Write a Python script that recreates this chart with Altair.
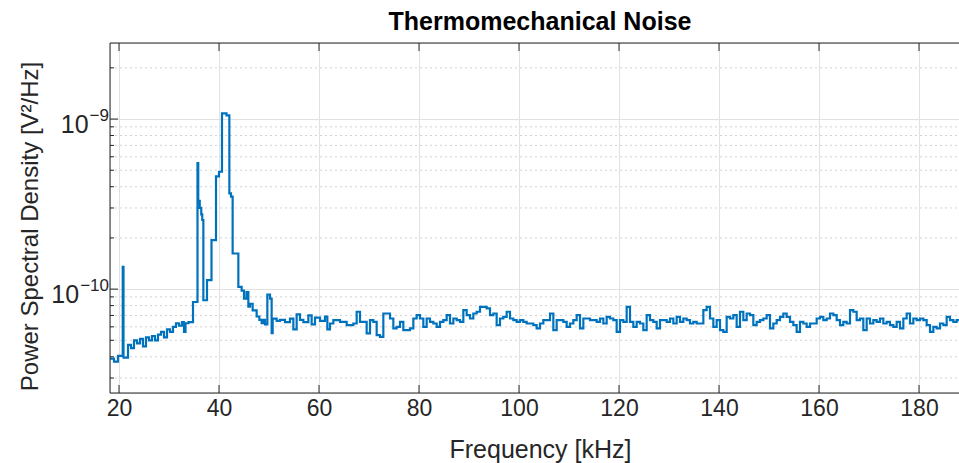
import altair as alt
import pandas as pd

title_text = "Thermomechanical Noise"
x_title = "Frequency [kHz]"
y_title = "Power Spectral Density [V²/Hz]"

# Low-frequency part: step start frequencies [kHz] and PSD values [1e-11 V^2/Hz]
low_f = [18.2, 19.0, 19.8, 20.75, 20.9, 21.8, 22.4, 23.0, 23.6, 24.2,
         24.8, 25.4, 26.0, 26.6, 27.2, 27.8, 28.4, 29.0, 29.6, 30.2,
         30.8, 31.4, 32.0, 32.6, 33.0, 33.3, 33.9, 34.8, 35.7, 35.85,
         36.15, 36.45, 36.65, 36.87, 37.6, 38.5, 39.4, 40.0, 40.6, 41.5,
         42.07, 42.4, 42.73, 43.87, 44.53, 45.0, 45.5, 45.87, 46.2, 46.73,
         47.53, 48.07, 48.53, 48.87, 49.2, 49.67, 50.2, 50.53, 50.73, 51.53,
         52.2, 53.2, 54.2, 54.87, 55.53, 56.2, 56.87, 57.87, 58.53, 59.2,
         60.2, 61.2, 61.67]
low_v = [3.9, 3.75, 4.05, 13.5, 3.95, 4.7, 4.5, 5.0, 4.8, 5.1,
         4.6, 5.2, 5.0, 5.3, 5.0, 5.4, 5.6, 5.2, 5.8, 5.6,
         6.0, 6.3, 6.1, 6.4, 5.6, 6.3, 6.4, 8.4, 55, 33,
         30, 27.5, 25.5, 8.6, 11.3, 19.4, 46, 49, 108, 105,
         36.6, 35, 16.2, 10.3, 9.8, 8.8, 9.6, 7.9, 8.2, 7.5,
         6.9, 6.6, 6.3, 6.6, 6.2, 9.3, 8.8, 5.5, 6.7, 6.5,
         6.6, 6.4, 6.7, 5.8, 7.1, 6.6, 6.4, 7.0, 6.2, 6.8,
         6.5, 6.9, 5.8]

# Noise floor: bins of 2/3 kHz starting at 62.2 kHz, PSD [1e-11 V^2/Hz]
noise_f0 = 62.2
noise_df = 2.0 / 3.0
noise_v = [6.28, 6.57, 6.57, 6.42, 6.42, 6.14, 6.14, 6.28, 7.36, 6.42,
           6.42, 5.49, 6.57, 6.42, 5.36, 5.24, 7.19, 7.19, 6.72, 5.87,
           6.00, 6.42, 5.74, 5.74, 5.87, 6.72, 7.03, 6.72, 6.00, 6.72,
           6.42, 6.28, 6.00, 6.42, 6.57, 7.03, 6.28, 6.72, 6.57, 6.42,
           7.52, 7.03, 6.72, 7.19, 7.36, 7.87, 7.87, 7.70, 7.03, 7.19,
           6.14, 6.72, 6.87, 7.36, 6.72, 6.57, 6.42, 6.57, 6.42, 6.28,
           6.28, 6.14, 5.87, 6.28, 6.57, 6.57, 7.19, 5.74, 6.57, 6.57,
           6.42, 6.00, 6.28, 6.57, 7.03, 5.87, 6.72, 6.72, 6.57, 6.57,
           6.42, 6.72, 6.28, 6.87, 6.72, 6.57, 5.61, 6.57, 6.42, 7.87,
           6.42, 6.00, 6.42, 6.28, 5.74, 7.03, 6.57, 6.42, 5.87, 6.57,
           6.57, 6.42, 6.72, 6.28, 6.87, 6.42, 6.72, 6.57, 6.28, 6.42,
           6.28, 6.28, 7.52, 7.87, 6.72, 6.00, 6.57, 5.74, 5.61, 6.87,
           6.72, 7.03, 6.00, 7.36, 6.57, 7.19, 7.03, 6.14, 6.42, 6.57,
           6.72, 7.03, 5.87, 6.28, 6.57, 6.87, 7.19, 6.87, 6.42, 6.14,
           5.61, 6.42, 6.28, 6.00, 6.28, 6.28, 6.72, 6.87, 6.57, 6.72,
           7.19, 7.03, 6.57, 6.14, 6.42, 6.28, 7.52, 7.36, 6.57, 6.72,
           5.74, 6.72, 6.28, 6.57, 6.42, 6.72, 6.28, 6.42, 6.14, 6.00,
           6.42, 5.87, 6.72, 7.19, 6.28, 6.72, 6.57, 6.72, 6.57, 6.14,
           5.61, 6.00, 5.87, 6.28, 6.14, 6.87, 6.57, 6.42, 6.57, 6.57]

x_ticks = [20, 40, 60, 80, 100, 120, 140, 160, 180]
y_major = [1e-10, 1e-9]
y_major_exp = ["\u221210", "\u22129"]
y_minor = [3e-11, 4e-11, 5e-11, 6e-11, 7e-11, 8e-11, 9e-11,
           2e-10, 3e-10, 4e-10, 5e-10, 6e-10, 7e-10, 8e-10, 9e-10, 2e-9]

W, H = 849, 350
XDOM = [18.2, 188.0]
YDOM = [2.45e-11, 2.8e-9]
FONT = "Liberation Sans"
TXT = "#262626"
GRID = "#e1e1e1"
LINE = "#0072BD"
TICK_FS = 23
BASE_FS = 25
EXP_FS = 17
CENTER_X = 430   # visual centre of the (cropped) axes box

freqs = list(low_f) + [noise_f0 + k * noise_df for k in range(len(noise_v))]
vals = [v * 1e-11 for v in (low_v + noise_v)]
df = pd.DataFrame({"f": freqs, "psd": vals})

xs = alt.Scale(domain=XDOM, nice=False, zero=False)
ys = alt.Scale(type="log", domain=YDOM, nice=False)

x_axis = alt.Axis(values=x_ticks, title=x_title, grid=True, gridColor=GRID,
                  ticks=False, tickSize=0, domain=False,
                  labelFontSize=TICK_FS, labelColor=TXT, labelFont=FONT, labelPadding=4,
                  titleFontSize=25, titleFont=FONT, titleColor=TXT,
                  titleFontWeight="normal", titleX=CENTER_X, titleAlign="center",
                  titleY=56, titleBaseline="middle")
y_axis = alt.Axis(values=y_major, grid=True, gridColor=GRID, labels=False,
                  ticks=False, tickSize=0, domain=False, title=y_title,
                  titleFontSize=24, titleFont=FONT, titleColor=TXT,
                  titleFontWeight="normal", titleX=-80, titleY=H / 2 + 8, titleAngle=270,
                  titleAlign="center", titleBaseline="middle")

minor_df = pd.DataFrame({"v": y_minor})
major_df = pd.DataFrame({"v": y_major, "e": y_major_exp})
xt_df = pd.DataFrame({"f": x_ticks})
title_df = pd.DataFrame({"t": [title_text]})

minor_grid = alt.Chart(minor_df).mark_rule(strokeDash=[2, 3], color="#d2d2d2", strokeWidth=1).encode(
    y=alt.Y("v:Q", scale=ys, axis=y_axis), x=alt.value(0), x2=alt.value(W))

line = alt.Chart(df).mark_line(interpolate="step-after", color=LINE, strokeWidth=2.2, clip=True).encode(
    x=alt.X("f:Q", scale=xs, axis=x_axis),
    y=alt.Y("psd:Q", scale=ys, axis=y_axis))

def yrule(data, x0, x1):
    return alt.Chart(data).mark_rule(color=TXT, strokeWidth=1).encode(
        y=alt.Y("v:Q", scale=ys, axis=y_axis), x=alt.value(x0), x2=alt.value(x1))

def xrule(y0, y1):
    return alt.Chart(xt_df).mark_rule(color=TXT, strokeWidth=1).encode(
        x=alt.X("f:Q", scale=xs, axis=x_axis), y=alt.value(y0), y2=alt.value(y1))

ticks = [yrule(major_df, 0, 8), yrule(minor_df, 0, 4), xrule(H, H - 8), xrule(0, 8)]

# axes box (left, top, bottom; the right side is cropped off in the original)
frame_df = pd.DataFrame({"side": ["left", "top", "bottom"]})
frame_left = alt.Chart(frame_df).transform_filter("datum.side == 'left'").mark_rule(
    color=TXT, strokeWidth=1).encode(x=alt.value(0), y=alt.value(0), y2=alt.value(H))
frame_top = alt.Chart(frame_df).transform_filter("datum.side == 'top'").mark_rule(
    color=TXT, strokeWidth=1).encode(x=alt.value(0), x2=alt.value(W), y=alt.value(0))
frame_bottom = alt.Chart(frame_df).transform_filter("datum.side == 'bottom'").mark_rule(
    color=TXT, strokeWidth=1).encode(x=alt.value(0), x2=alt.value(W), y=alt.value(H))

lab_base = alt.Chart(major_df).transform_calculate(
    px="-2 - %d*(0.584 + 0.556*(length(datum.e)-1))" % EXP_FS
).mark_text(align="right", baseline="middle", fontSize=BASE_FS, font=FONT, color=TXT, dy=6).encode(
    y=alt.Y("v:Q", scale=ys, axis=y_axis), x=alt.X("px:Q", scale=None), text=alt.value("10"))

lab_exp = alt.Chart(major_df).mark_text(align="right", baseline="middle", fontSize=EXP_FS, font=FONT,
                                        color=TXT, dy=-3).encode(
    y=alt.Y("v:Q", scale=ys, axis=y_axis), x=alt.value(-1), text="e:N")

title_mark = alt.Chart(title_df).mark_text(align="center", baseline="alphabetic", fontSize=25,
                                           fontWeight="bold", font=FONT, color="#000000").encode(
    x=alt.value(CENTER_X), y=alt.value(-13), text="t:N")

chart = alt.layer(minor_grid, line, *ticks, frame_left, frame_top, frame_bottom,
                  lab_base, lab_exp, title_mark).properties(
    width=W, height=H,
    autosize=alt.AutoSizeParams(type="none"),
    padding={"left": 110, "top": 43, "right": 0, "bottom": 70},
).configure_view(stroke="transparent").configure(background="white")

chart.save("out.html", embed_options={"renderer": "svg", "actions": False})
